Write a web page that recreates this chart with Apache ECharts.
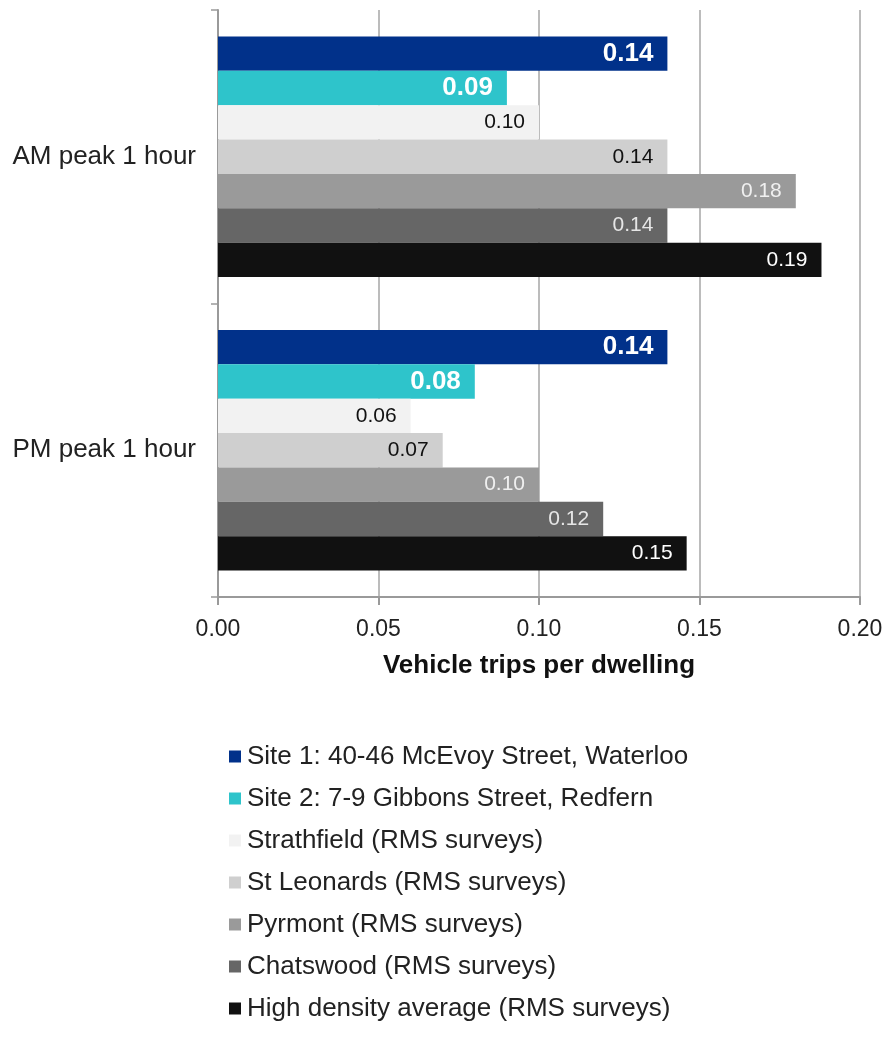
<!DOCTYPE html>
<html>
<head>
<meta charset="utf-8">
<style>
  html, body { margin: 0; padding: 0; background: #fff; }
  #chart { width: 886px; height: 1043px; }
</style>
<script src="https://cdn.jsdelivr.net/npm/echarts@6/dist/echarts.min.js"></script>
</head>
<body>
<div id="chart"></div>
<script>
// Peak-hour categories, top to bottom
const categories = ['AM peak 1 hour', 'PM peak 1 hour'];

// Series names (legend order)
const seriesNames = [
  'Site 1: 40-46 McEvoy Street, Waterloo',
  'Site 2: 7-9 Gibbons Street, Redfern',
  'Strathfield (RMS surveys)',
  'St Leonards (RMS surveys)',
  'Pyrmont (RMS surveys)',
  'Chatswood (RMS surveys)',
  'High density average (RMS surveys)'
];

// Vehicle trips per dwelling: [AM, PM]
const site1 = [0.14, 0.14];
const site2 = [0.09, 0.08];
const strathfield = [0.10, 0.06];
const stLeonards = [0.14, 0.07];
const pyrmont = [0.18, 0.10];
const chatswood = [0.14, 0.12];
const highDensity = [0.188, 0.146];

// X axis ticks
const xTicks = [0, 0.05, 0.10, 0.15, 0.20];

const seriesValues = [site1, site2, strathfield, stLeonards, pyrmont, chatswood, highDensity];
const colors = ['#01318A', '#2EC4CB', '#F2F2F2', '#CFCFCF', '#9A9A9A', '#666666', '#111111'];
const labelColors = ['#ffffff', '#ffffff', '#111111', '#111111', '#f0f0f0', '#e6e6e6', '#ffffff'];
const labelBold = [true, true, false, false, false, false, false];

const FONT = '"Liberation Sans", Arial, sans-serif';

const chart = echarts.init(document.getElementById('chart'), null, { renderer: 'canvas' });

const series = seriesNames.map((name, i) => ({
  name: name,
  type: 'bar',
  data: seriesValues[i],
  barGap: '0%',
  barCategoryGap: '18%',
  itemStyle: { color: colors[i] },
  label: {
    show: true,
    position: 'insideRight',
    distance: 14,
    formatter: p => p.value.toFixed(2),
    color: labelColors[i],
    fontFamily: FONT,
    fontSize: labelBold[i] ? 26 : 21,
    fontWeight: labelBold[i] ? 'bold' : 'normal'
  }
}));

chart.setOption({
  animation: false,
  backgroundColor: '#ffffff',
  textStyle: { fontFamily: FONT },
  grid: { left: 218, right: 26, top: 10, bottom: 446, containLabel: false },
  xAxis: {
    type: 'value',
    min: xTicks[0],
    max: xTicks[xTicks.length - 1],
    interval: 0.05,
    axisLine: { show: true, lineStyle: { color: '#9a9a9a', width: 2 } },
    axisTick: { show: true, length: 8, lineStyle: { color: '#9a9a9a', width: 2 } },
    splitLine: { show: true, lineStyle: { color: '#a6a6a6', width: 1.5 } },
    axisLabel: {
      margin: 21,
      color: '#222',
      fontSize: 23,
      fontFamily: FONT,
      formatter: v => v.toFixed(2)
    },
    name: 'Vehicle trips per dwelling',
    nameLocation: 'middle',
    nameGap: 56,
    nameTextStyle: { color: '#111', fontSize: 26, fontWeight: 'bold', fontFamily: FONT }
  },
  yAxis: {
    type: 'category',
    data: categories,
    inverse: true,
    axisLine: { show: true, lineStyle: { color: '#9a9a9a', width: 2 } },
    axisTick: { show: true, length: 7, lineStyle: { color: '#9a9a9a', width: 1.5 } },
    axisLabel: { margin: 22, color: '#222', fontSize: 26, fontFamily: FONT }
  },
  legend: {
    orient: 'vertical',
    left: 224,
    top: 738,
    itemWidth: 12,
    itemHeight: 12,
    itemGap: 15,
    icon: 'rect',
    data: seriesNames,
    textStyle: { color: '#222', fontSize: 26, lineHeight: 27, fontFamily: FONT, padding: [0, 0, 0, 1] }
  },
  series: series
});
</script>
</body>
</html>
